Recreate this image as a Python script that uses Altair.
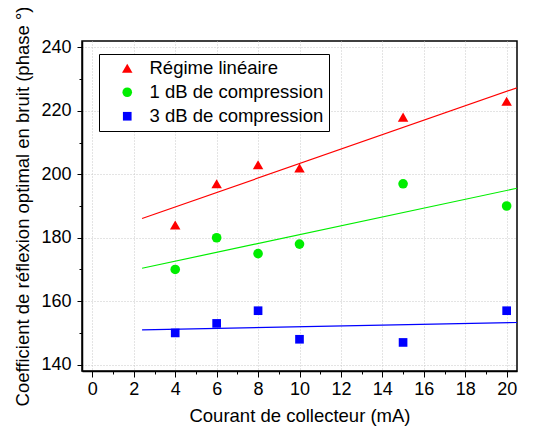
import altair as alt
import pandas as pd

courant = [4, 6, 8, 10, 15, 20]
series_names = ["Régime linéaire", "1 dB de compression", "3 dB de compression"]
lineaire = [184, 197, 203, 202, 218, 223]
comp_1db = [170, 180, 175, 178, 197, 190]
comp_3db = [150, 153, 157, 148, 147, 157]

x_ticks = [0, 2, 4, 6, 8, 10, 12, 14, 16, 18, 20]
x_minor = [1, 3, 5, 7, 9, 11, 13, 15, 17, 19]
y_ticks = [140, 160, 180, 200, 220, 240]
y_minor = [150, 170, 190, 210, 230]

rows = []
for name, vals in zip(series_names, [lineaire, comp_1db, comp_3db]):
    for xv, yv in zip(courant, vals):
        rows.append({"x": xv, "y": yv, "serie": name})
df = pd.DataFrame(rows)

FONT = "Liberation Sans"
colors = ["#FF0000", "#00EE00", "#0000FF"]
shapes = ["triangle-up", "circle", "square"]
sizes = [110, 75, 68]

xscale = alt.Scale(domain=[-0.5, 20.5], nice=False, zero=False)
yscale = alt.Scale(domain=[138, 242], nice=False, zero=False)

legend_cfg = dict(title=None, orient="none", legendX=17, legendY=13,
                  padding=5, strokeColor="black", fillColor="white",
                  labelFont=FONT, labelFontSize=18.5, labelColor="black",
                  symbolOffset=14, labelOffset=13, rowPadding=5,
                  symbolStrokeWidth=0, labelLimit=400)

base = alt.Chart(df)

points = base.mark_point(filled=True, opacity=1).encode(
    x=alt.X("x:Q", scale=xscale,
            axis=alt.Axis(values=x_ticks, title="Courant de collecteur (mA)",
                          orient="bottom", grid=True, tickSize=6,
                          labelPadding=3, titlePadding=8)),
    y=alt.Y("y:Q", scale=yscale,
            axis=alt.Axis(values=y_ticks,
                          title="Coefficient de réflexion optimal en bruit (phase °)",
                          orient="left", grid=True, tickSize=5,
                          labelPadding=6, titlePadding=8)),
    color=alt.Color("serie:N", scale=alt.Scale(domain=series_names, range=colors),
                    legend=alt.Legend(**legend_cfg)),
    shape=alt.Shape("serie:N", scale=alt.Scale(domain=series_names, range=shapes),
                    legend=alt.Legend(**legend_cfg)),
    size=alt.Size("serie:N", scale=alt.Scale(domain=series_names, range=sizes),
                  legend=alt.Legend(**legend_cfg)),
)

lines = base.transform_regression(
    "x", "y", groupby=["serie"], extent=[2.4, 20.5]
).mark_line(strokeWidth=1.2, clip=True).encode(
    x=alt.X("x:Q", scale=xscale,
            axis=alt.Axis(values=x_minor, title=None, labels=False, domain=False,
                          grid=False, tickSize=3, orient="bottom")),
    y=alt.Y("y:Q", scale=yscale,
            axis=alt.Axis(values=y_minor, title=None, labels=False, domain=False,
                          grid=False, tickSize=3, orient="left")),
    color=alt.Color("serie:N", scale=alt.Scale(domain=series_names, range=colors), legend=None),
)

chart = alt.layer(lines, points).resolve_axis(
    x="independent", y="independent"
).resolve_legend(color="independent", shape="independent", size="independent").properties(
    width=435, height=330,
    padding={"left": 74, "top": 33, "right": 13, "bottom": 56},
    autosize=alt.AutoSizeParams(type="none"),
).configure_view(
    stroke="black", strokeWidth=1.5
).configure_axis(
    labelFont=FONT, titleFont=FONT, labelFontSize=18, titleFontSize=18.5,
    labelColor="black", titleColor="black", titleFontWeight="normal",
    domainColor="black", domainWidth=1.5, tickColor="black", tickWidth=1,
    gridColor="#c8c8c8", gridDash=[1, 2], gridWidth=1,
)

chart.save("out.html", embed_options={"renderer": "svg", "actions": False})
